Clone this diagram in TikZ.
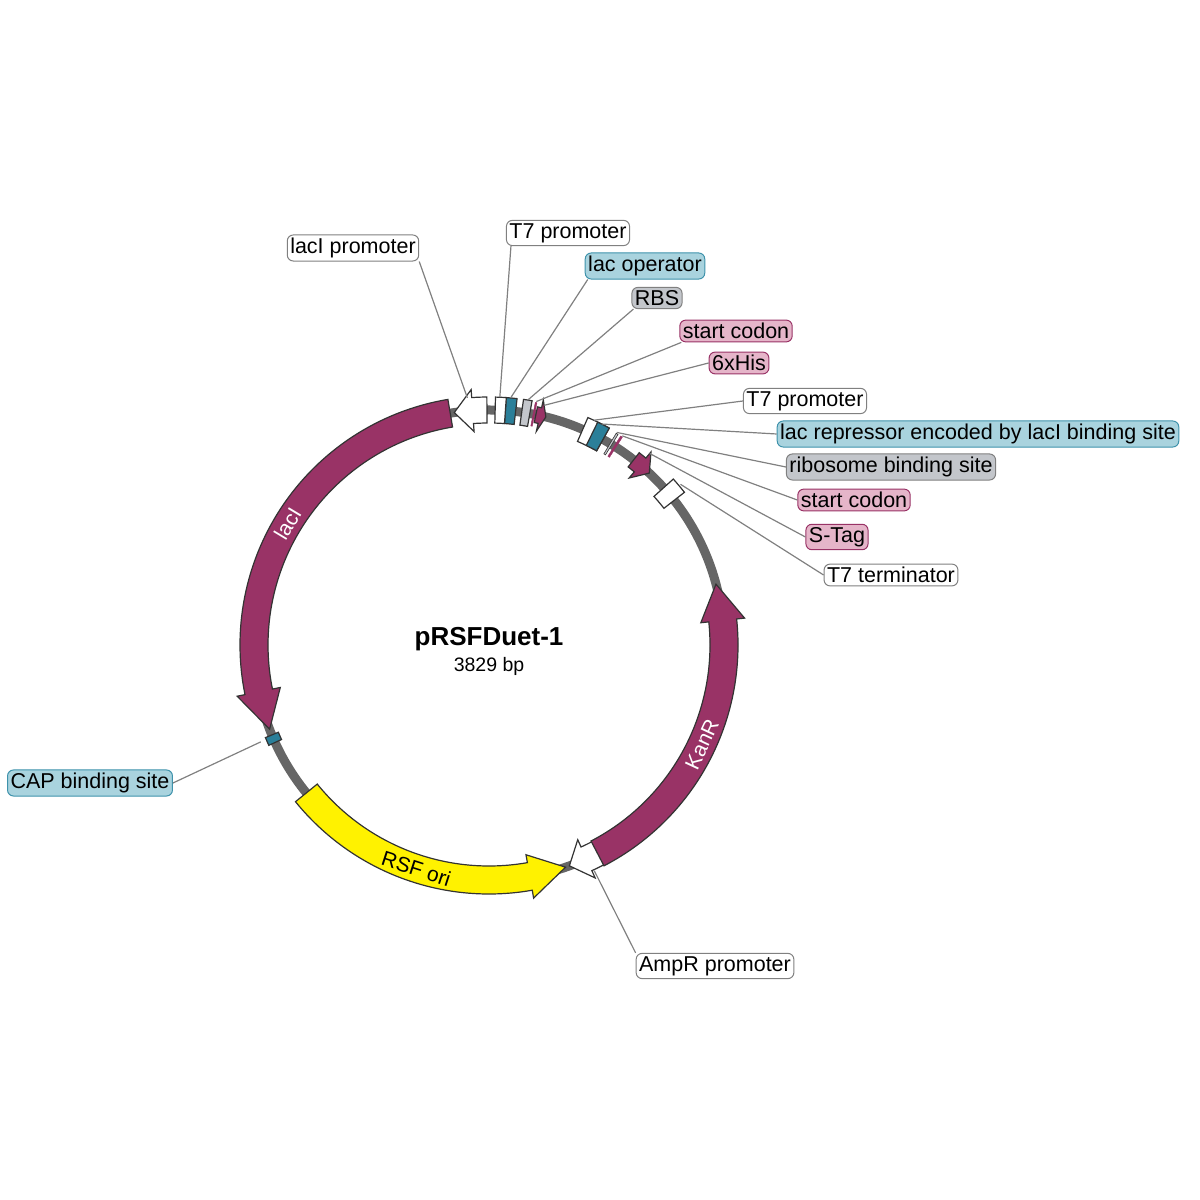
\documentclass[tikz,border=0pt]{standalone}
\usepackage{fontspec}
\setmainfont{Liberation Sans}
\usepackage{tikz}
\usetikzlibrary{positioning,calc}

\definecolor{plum}{HTML}{993366}
\definecolor{teal2}{HTML}{2B7F99}
\definecolor{lblblue}{HTML}{A9D3DE}
\definecolor{lblblueedge}{HTML}{3E92AB}
\definecolor{lblgray}{HTML}{C3C6CB}
\definecolor{lblpink}{HTML}{E5B5C9}
\definecolor{bbgray}{HTML}{666666}

% feature arrow: tail angle, tip angle, head angle (signed), style, half width
\newcommand{\featarrow}[5]{%
  \pgfmathsetmacro\fhead{#2-#3}
  \filldraw[#4] ($(c)+(#1:235-#5)$) arc[start angle=#1,end angle=\fhead,radius=235-#5]
    -- ($(c)+(\fhead:227-#5)$) -- ($(c)+(#2:235)$) -- ($(c)+(\fhead:243+#5)$)
    -- ($(c)+(\fhead:235+#5)$) arc[start angle=\fhead,end angle=#1,radius=235+#5] -- cycle;}
% feature box: start angle, end angle, style, half width
\newcommand{\featbox}[4]{%
  \filldraw[#3] ($(c)+(#1:235-#4)$) arc[start angle=#1,end angle=#2,radius=235-#4]
    -- ($(c)+(#2:235+#4)$) arc[start angle=#2,end angle=#1,radius=235+#4] -- cycle;}

\tikzset{
  feat/.style={draw=black!80, line width=1.2pt},
  lbl/.style={rounded corners=6pt, draw=gray, fill=white, line width=1pt,
    inner sep=3pt, font=\fontsize{21.5}{23}\selectfont},
  lblb/.style={lbl, fill=lblblue, draw=lblblueedge},
  lblg/.style={lbl, fill=lblgray, draw=gray},
  lblp/.style={lbl, fill=lblpink, draw=plum},
  lead/.style={draw=gray, line width=1.2pt}
}

\begin{document}
\begin{tikzpicture}[x=1pt,y=1pt]
    \useasboundingbox (0,0) rectangle (1200,1200);
    \coordinate (c) at (489,555);

    % Backbone
    \draw[bbgray, line width=9pt] (c) circle (235);

    % Features
    \featarrow{90.5}{98.5}{4.5}{feat, fill=white}{13}
    \featarrow{99.5}{201}{9.5}{feat, fill=plum}{14}
    \featbox{202.5}{204.5}{feat, fill=teal2}{7}
    \featarrow{219}{289}{9}{feat, fill=yellow}{14}
    \featarrow{298}{290}{-4.5}{feat, fill=white}{13}
    \featarrow{297.5}{375}{9}{feat, fill=plum}{14}
    \featbox{38}{42}{feat, fill=white}{13}
    \featarrow{52}{47}{-3}{feat, fill=plum}{9}
    \featbox{57.3}{57.8}{draw=plum, fill=plum}{12}
    \featbox{58.5}{59}{feat, line width=0.6pt, fill=lblgray}{12}
    \featbox{61}{66.5}{feat, fill=white}{13}
    \featbox{61}{64}{feat, fill=teal2}{13}
    \featarrow{78.5}{76}{-1.5}{feat, fill=plum}{8}
    \featbox{78.8}{79.2}{draw=plum, fill=plum}{12}
    \featbox{80}{82}{feat, fill=lblgray}{13}
    \featbox{83.5}{86}{feat, fill=teal2}{13}
    \featbox{86}{88.5}{feat, fill=white}{13}

    % Text on features
    \node[white, rotate=59, font=\fontsize{21}{22}\selectfont] at ($(c)+(149:235)$) {lacI};
    \node[rotate=-18, font=\fontsize{21}{22}\selectfont] at ($(c)+(252:235)$) {RSF ori};
    \node[white, rotate=65, font=\fontsize{21}{22}\selectfont] at ($(c)+(-25:235)$) {KanR};

    % Title
    \node[font=\bfseries\fontsize{26}{28}\selectfont] (title) at (489,561) {pRSFDuet-1};
    \node[font=\fontsize{19.5}{22}\selectfont, below=0pt of title] (size) {3829 bp};

    % Leader ends
    \coordinate (elacp) at ($(c)+(95:248)$);
    \coordinate (et7a) at ($(c)+(87.5:248)$);
    \coordinate (elaco) at ($(c)+(85:248)$);
    \coordinate (erbsa) at ($(c)+(81:248)$);
    \coordinate (esca) at ($(c)+(79:248)$);
    \coordinate (ehis) at ($(c)+(77:246)$);
    \coordinate (et7b) at ($(c)+(65:248)$);
    \coordinate (elacr) at ($(c)+(63:248)$);
    \coordinate (erbsb) at ($(c)+(59:248)$);
    \coordinate (escb) at ($(c)+(57.5:248)$);
    \coordinate (estag) at ($(c)+(50:250)$);
    \coordinate (et7t) at ($(c)+(40:250)$);
    \coordinate (ecap) at ($(c)+(203:248)$);
    \coordinate (eamp) at ($(c)+(295:249)$);

    % Labels
    \node[lbl] (lacp) at (353,952) {lacI promoter};
    \node[lbl] (t7a) at (568,967) {T7 promoter};
    \node[lblb] (laco) at (645,934) {lac operator};
    \node[lblg] (rbsa) at (657,902) {RBS};
    \node[lblp] (sca) at (736,869) {start codon};
    \node[lblp] (his) at (739,837) {6xHis};
    \node[lbl] (t7b) at (805,799) {T7 promoter};
    \node[lblb] (lacr) at (978,766) {lac repressor encoded by lacI binding site};
    \node[lblg] (rbsb) at (891,733) {ribosome binding site};
    \node[lblp] (scb) at (854,700) {start codon};
    \node[lblp] (stag) at (837,663) {S-Tag};
    \node[lbl] (t7t) at (891,625) {T7 terminator};
    \node[lblb] (cap) at (90,417) {CAP binding site};
    \node[lbl] (amp) at (715,234) {AmpR promoter};

    % Leaders
    \draw[lead] (lacp.south east) -- (elacp);
    \draw[lead] ([xshift=5pt]t7a.south west) -- (et7a);
    \draw[lead] ([xshift=3pt]laco.south west) -- (elaco);
    \draw[lead] ([xshift=2pt]rbsa.south west) -- (erbsa);
    \draw[lead] ([xshift=2pt]sca.south west) -- (esca);
    \draw[lead] (his.west) -- (ehis);
    \draw[lead] (t7b.west) -- (et7b);
    \draw[lead] (lacr.west) -- (elacr);
    \draw[lead] (rbsb.west) -- (erbsb);
    \draw[lead] (scb.west) -- (escb);
    \draw[lead] (stag.west) -- (estag);
    \draw[lead] (t7t.west) -- (et7t);
    \draw[lead] (cap.east) -- (ecap);
    \draw[lead] (amp.north west) -- (eamp);
\end{tikzpicture}
\end{document}
